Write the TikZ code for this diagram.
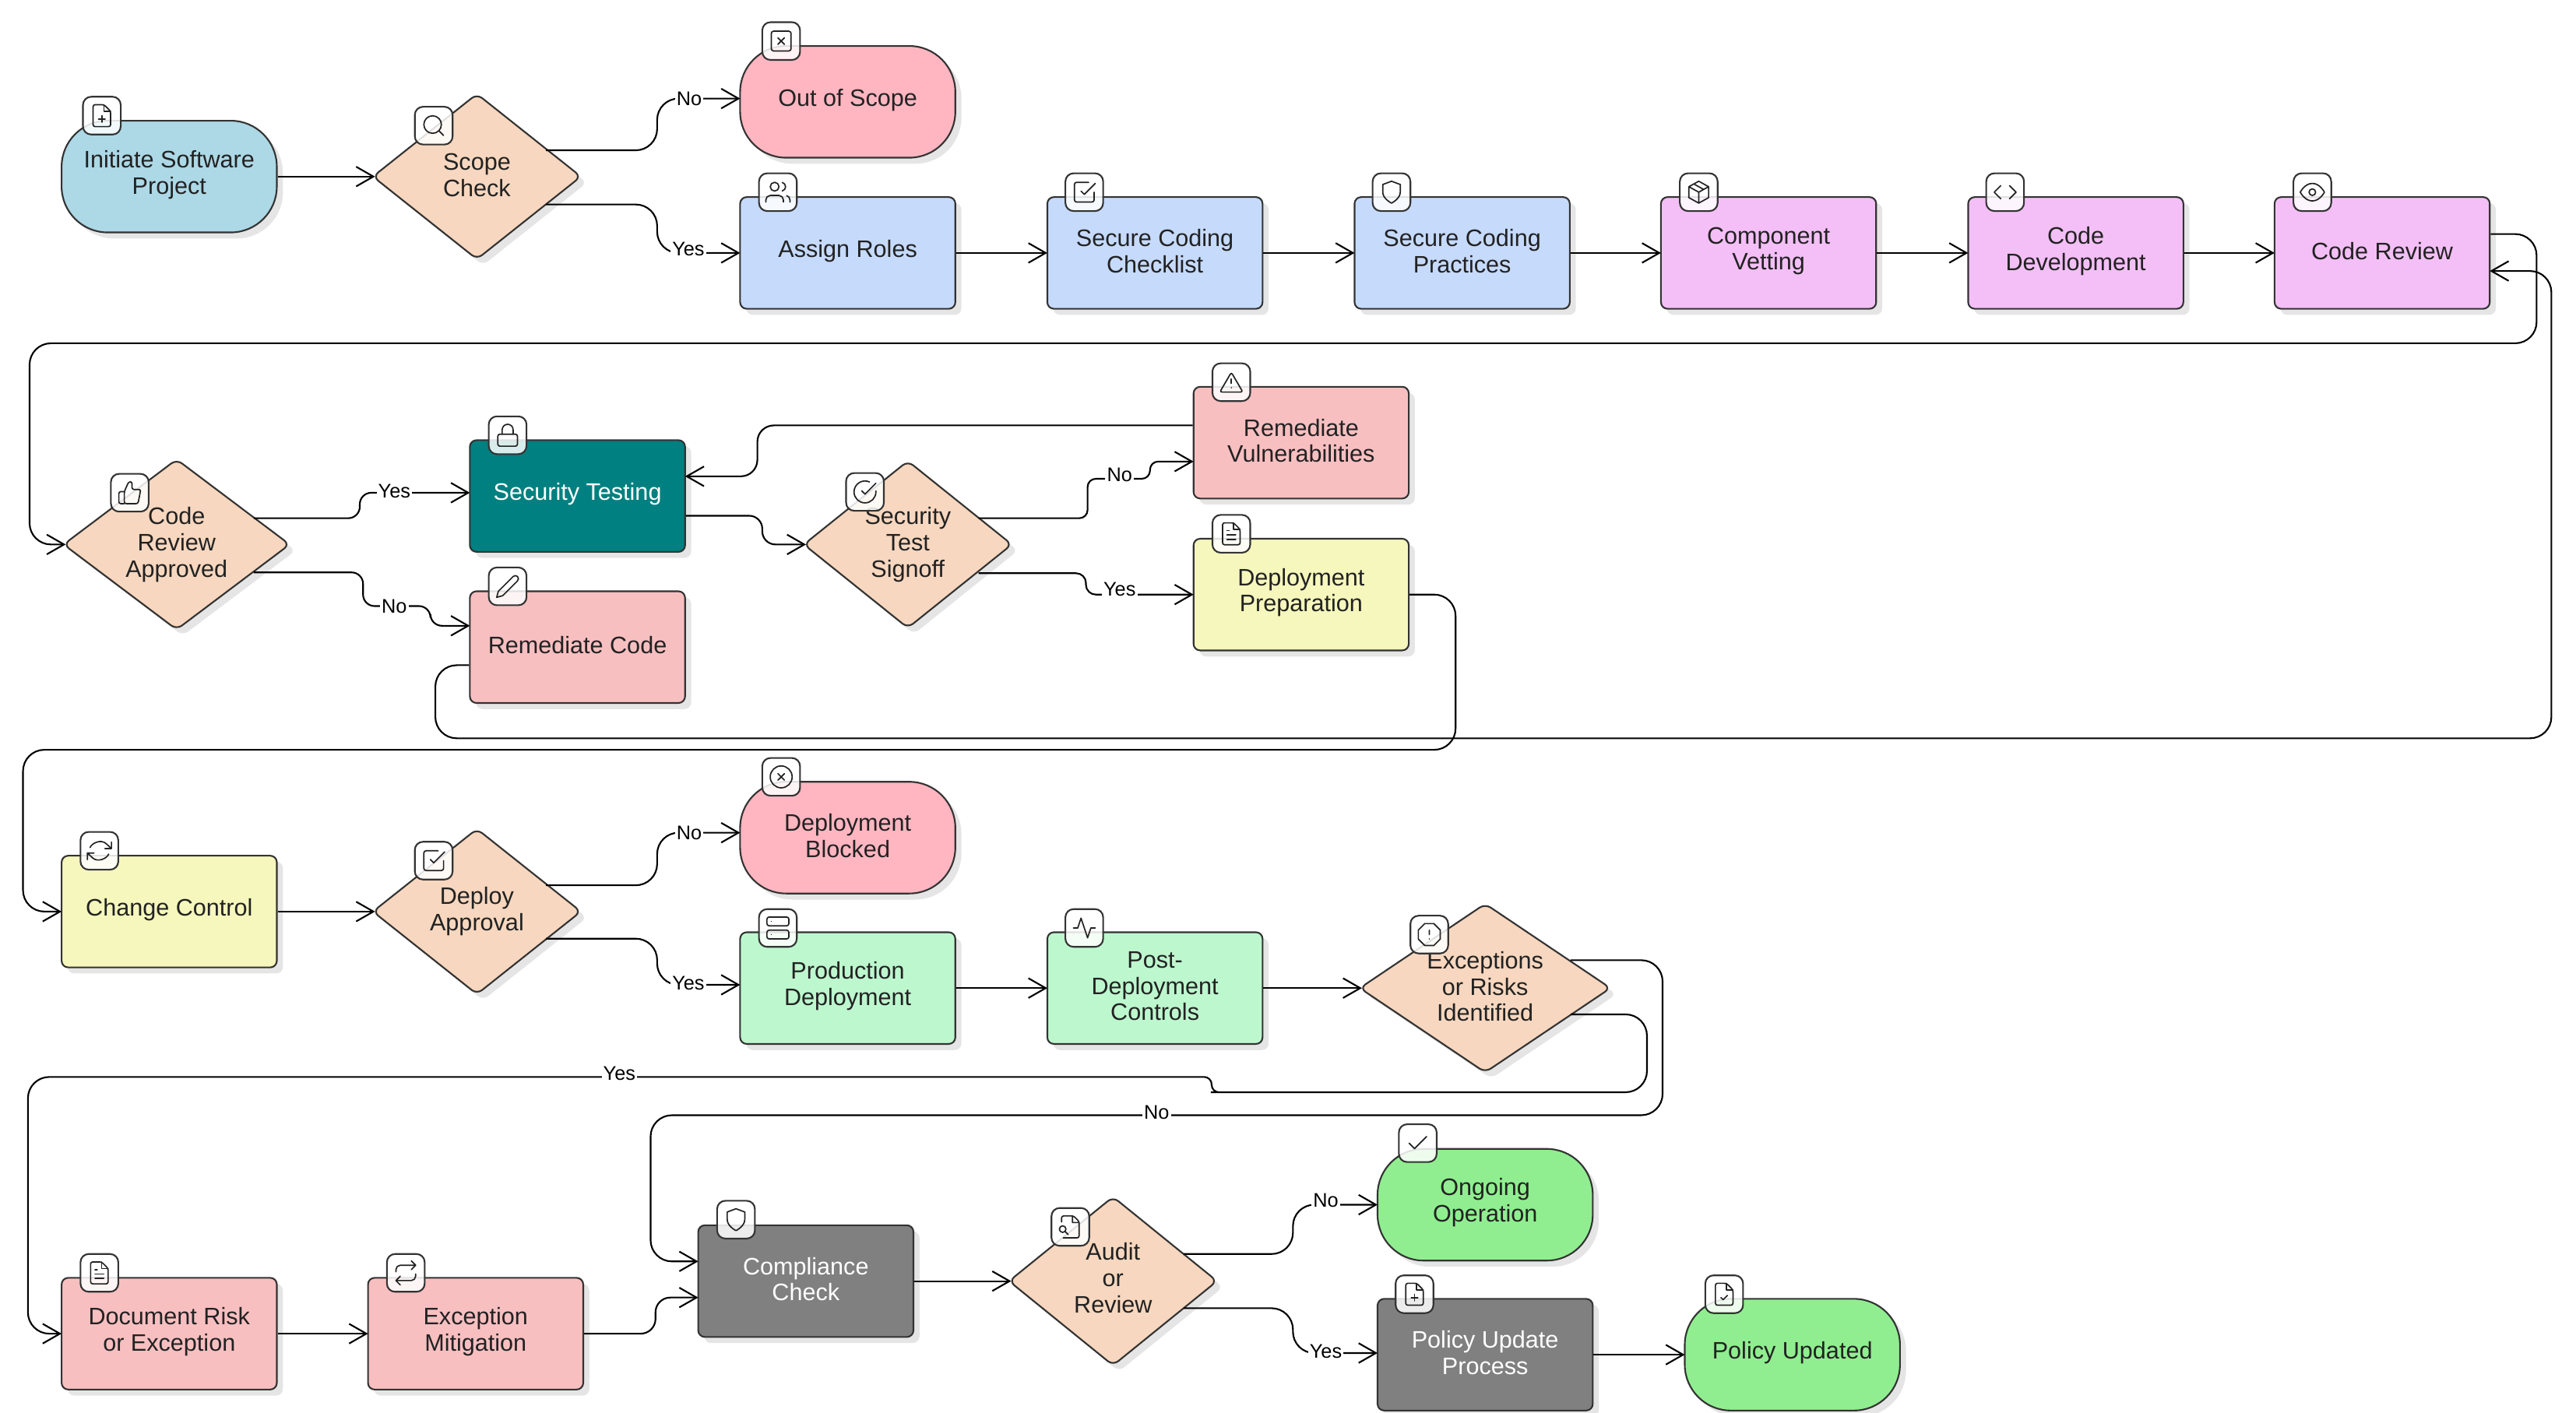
\documentclass[tikz,border=0pt]{standalone}
\usepackage{fontspec}
\setmainfont{Liberation Sans}
\usetikzlibrary{arrows.meta,shapes.geometric,shadows}
\definecolor{cline}{HTML}{333333}
\definecolor{ctxt}{HTML}{222222}
\definecolor{cblue}{HTML}{ADD8E6}
\definecolor{cpink}{HTML}{FFB6C1}
\definecolor{cperi}{HTML}{C6DAFC}
\definecolor{cpurp}{HTML}{F3BFF6}
\definecolor{csalm}{HTML}{F8BFC1}
\definecolor{cyell}{HTML}{F5F7BC}
\definecolor{cmint}{HTML}{BDF7CE}
\definecolor{cteal}{HTML}{008080}
\definecolor{cgray}{HTML}{808080}
\definecolor{clime}{HTML}{90EE90}
\definecolor{cdia}{HTML}{F7D7BF}
\tikzset{
  shad/.style={drop shadow={shadow xshift=3.7pt,shadow yshift=-3.7pt,fill=black!10,opacity=1}},
  basebox/.style={draw=cline,line width=1pt,shad,inner sep=0pt},
  rbox/.style={basebox,rectangle,rounded corners=4pt,minimum width=131pt,minimum height=68pt,fill=#1},
  sbox/.style={basebox,rectangle,rounded corners=28pt,minimum width=131pt,minimum height=68pt,fill=#1},
  dia/.style={basebox,diamond,rounded corners=4pt,fill=cdia,aspect=1.25},
  txt/.style={align=center,text=ctxt,inner sep=0pt,font=\fontsize{14.5}{16}\selectfont},
  txtw/.style={txt,text=white},
  edge/.style={draw=black,line width=1pt,rounded corners=13pt,shorten >=-.5pt,-{Straight Barb[length=10.5pt,width=12pt,line width=1pt]}},
  todia/.style={shorten >=-2pt},
  elab/.style={fill=white,inner sep=1pt,text=black,font=\fontsize{12}{12}\selectfont},
  badge/.style={rectangle,draw=cline,line width=1pt,rounded corners=5pt,fill=white,fill opacity=.85,minimum size=23pt,inner sep=0pt},
  ic/.style={draw=ctxt,line width=.8pt,line cap=round,line join=round},
  icbase/.style={shift={(-8pt,8pt)},x=.6667pt,y=-.6667pt},
  doc/.pic={\path[ic,rounded corners=1.2pt] (14,2)--(4,2)--(4,22)--(20,22)--(20,8)--cycle; \path[ic] (14,2)--(14,8)--(20,8);},
  fileplus/.pic={\begin{scope}[icbase]\pic{doc};\path[ic] (12,18)--(12,12) (9,15)--(15,15);\end{scope}},
  filetext/.pic={\begin{scope}[icbase]\pic{doc};\path[ic] (16,13)--(8,13) (16,17)--(8,17) (10,9)--(8,9);\end{scope}},
  filesearch/.pic={\begin{scope}[icbase]\path[ic,rounded corners=1.2pt] (4,7.5)--(4,2)--(15,2)--(20,7)--(20,22)--(5.5,22);\path[ic] (14,2)--(14,8)--(20,8) (5,14) circle[radius=3] (7.3,16.3)--(10,19);\end{scope}},
  filecheck/.pic={\begin{scope}[icbase]\pic{doc};\path[ic] (9,15)--(11,17)--(15,13);\end{scope}},
  isearch/.pic={\begin{scope}[icbase]\path[ic] (11,11) circle[radius=8] (21,21)--(16.65,16.65);\end{scope}},
  xsquare/.pic={\begin{scope}[icbase]\path[ic,rounded corners=1.3pt] (3,3) rectangle (21,21);\path[ic] (9,9)--(15,15) (15,9)--(9,15);\end{scope}},
  users/.pic={\begin{scope}[icbase]\path[ic] (17,21)--(17,19) .. controls (17,16.8) and (15.2,15) .. (13,15) -- (5,15) .. controls (2.8,15) and (1,16.8) .. (1,19) -- (1,21) (9,7) circle[radius=4] (23,21)--(23,19) .. controls (23,17.2) and (21.8,15.6) .. (20,15.13) (16,3.13) .. controls (17.8,3.6) and (19,5.2) .. (19,7) .. controls (19,8.8) and (17.8,10.4) .. (16,10.88);\end{scope}},
  checksq/.pic={\begin{scope}[icbase]\path[ic,rounded corners=1.3pt] (21,12)--(21,21)--(3,21)--(3,3)--(16,3);\path[ic] (9,11)--(12,14)--(22,4);\end{scope}},
  shield/.pic={\begin{scope}[icbase]\path[ic] (12,22) .. controls (12,22) and (20,18) .. (20,12) -- (20,5) -- (12,2) -- (4,5) -- (4,12) .. controls (4,18) and (12,22) .. (12,22) -- cycle;\end{scope}},
  ibox/.pic={\begin{scope}[icbase]\path[ic] (12,2)--(21,7)--(21,17)--(12,22)--(3,17)--(3,7)--cycle (3,7)--(12,12)--(21,7) (12,22)--(12,12) (7.5,4.5)--(16.5,9.5);\end{scope}},
  icode/.pic={\begin{scope}[icbase]\path[ic] (16,18)--(22,12)--(16,6) (8,6)--(2,12)--(8,18);\end{scope}},
  eye/.pic={\begin{scope}[icbase]\path[ic] (1,12) .. controls (1,12) and (5,4) .. (12,4) .. controls (19,4) and (23,12) .. (23,12) .. controls (23,12) and (19,20) .. (12,20) .. controls (5,20) and (1,12) .. (1,12) -- cycle (12,12) circle[radius=3];\end{scope}},
  alert/.pic={\begin{scope}[icbase]\path[ic,rounded corners=1.3pt] (12,3)--(22.5,21)--(1.5,21)--cycle;\path[ic] (12,9)--(12,13) (12,17)--(12.01,17);\end{scope}},
  ilock/.pic={\begin{scope}[icbase]\path[ic,rounded corners=1.3pt] (3,11) rectangle (21,22);\path[ic] (7,11)--(7,7) .. controls (7,4.2) and (9.2,2) .. (12,2) .. controls (14.8,2) and (17,4.2) .. (17,7) -- (17,11);\end{scope}},
  thumb/.pic={\begin{scope}[icbase]\path[ic,rounded corners=1.2pt] (14,9)--(14,5) .. controls (14,3.3) and (12.7,2) .. (11,2) -- (7,11)--(7,22)--(19.5,22)--(22,9)--cycle;\path[ic,rounded corners=1.2pt] (7,22)--(2,22)--(2,11)--(7,11);\end{scope}},
  circheck/.pic={\begin{scope}[icbase]\path[ic] (22,11.08)--(22,12) arc[start angle=0,end angle=294,radius=10] (22,4)--(12,14.01)--(9,11.01);\end{scope}},
  pencil/.pic={\begin{scope}[icbase]\path[ic] (17,3) .. controls (18.1,1.9) and (19.9,1.9) .. (21,3) .. controls (22.1,4.1) and (22.1,5.9) .. (21,7) -- (7.5,20.5) -- (2,22) -- (3.5,16.5) -- cycle;\end{scope}},
  refresh/.pic={\begin{scope}[icbase]\path[ic] (23,4)--(23,10)--(17,10) (1,20)--(1,14)--(7,14) (3.51,9) .. controls (5,5) and (13.5,1) .. (18.36,5.64) -- (23,10) (1,14) -- (5.64,18.36) .. controls (10.5,23) and (19,19) .. (20.49,15);\end{scope}},
  xcircle/.pic={\begin{scope}[icbase]\path[ic] (12,12) circle[radius=10] (15,9)--(9,15) (9,9)--(15,15);\end{scope}},
  server/.pic={\begin{scope}[icbase]\path[ic,rounded corners=1.3pt] (2,2) rectangle (22,10) (2,14) rectangle (22,22);\path[ic] (6,6)--(6.01,6) (6,18)--(6.01,18);\end{scope}},
  activity/.pic={\begin{scope}[icbase]\path[ic] (22,12)--(18,12)--(15,21)--(9,3)--(6,12)--(2,12);\end{scope}},
  octagon/.pic={\begin{scope}[icbase]\path[ic] (7.86,2)--(16.14,2)--(22,7.86)--(22,16.14)--(16.14,22)--(7.86,22)--(2,16.14)--(2,7.86)--cycle (12,8)--(12,12) (12,16)--(12.01,16);\end{scope}},
  irepeat/.pic={\begin{scope}[icbase]\path[ic] (17,1)--(21,5)--(17,9) (3,11)--(3,9) .. controls (3,6.8) and (4.8,5) .. (7,5) -- (21,5) (7,23)--(3,19)--(7,15) (21,13)--(21,15) .. controls (21,17.2) and (19.2,19) .. (17,19) -- (3,19);\end{scope}},
  icheck/.pic={\begin{scope}[icbase]\path[ic] (20,6)--(9,17)--(4,12);\end{scope}},
}
% style, name, x, y, text
\newcommand\nd[5]{\node[#1] (#2) at (#3,#4) {};\node[txt] (#2-t) at ([yshift=1.2pt]#2.center) {#5};}
\newcommand\ndw[5]{\node[#1] (#2) at (#3,#4) {};\node[txtw] (#2-t) at ([yshift=1.2pt]#2.center) {#5};}
\newcommand\dm[7]{\node[dia,minimum width=#3pt,minimum height=#4pt,aspect=1.25] (#1) at (#5,#6) {};\node[txt] (#1-t) at ([yshift=#2pt]#1.center) {#7};}
\newcommand\bdg[4]{\node[badge] (#1) at (#2,#3) {};\pic at (#1) {#4};}
\begin{document}
\begin{tikzpicture}[x=1pt,y=-1pt]
\useasboundingbox (0,0) rectangle (1568,860);
% ---- row 1
\nd{sbox=cblue}{start}{103}{107.5}{Initiate Software\\Project}
\dm{scope}{1}{127}{101}{290.3}{107.5}{Scope\\Check}
\nd{sbox=cpink}{out}{516}{62}{Out of Scope}
\nd{rbox=cperi}{assign}{516}{154}{Assign Roles}
\nd{rbox=cperi}{chk}{703}{154}{Secure Coding\\Checklist}
\nd{rbox=cperi}{prac}{890}{154}{Secure Coding\\Practices}
\nd{rbox=cpurp}{vet}{1076.5}{154}{Component\\Vetting}
\nd{rbox=cpurp}{dev}{1263.5}{154}{Code\\Development}
\nd{rbox=cpurp}{cr}{1450}{154}{Code Review}
% ---- row 2
\dm{cra}{0}{138}{104}{107.5}{331.5}{Code\\Review\\Approved}
\ndw{rbox=cteal}{st}{351.5}{302}{Security Testing}
\nd{rbox=csalm}{rc}{351.5}{394}{Remediate Code}
\dm{sts}{0}{127}{102}{552.6}{331.5}{Security\\Test\\Signoff}
\nd{rbox=csalm}{rv}{792}{269.5}{Remediate\\Vulnerabilities}
\nd{rbox=cyell}{dp}{792}{362}{Deployment\\Preparation}
% ---- row 3
\nd{rbox=cyell}{cc}{103}{555}{Change Control}
\dm{da}{0}{127}{101}{290.3}{555}{Deploy\\Approval}
\nd{sbox=cpink}{db}{516}{510}{Deployment\\Blocked}
\nd{rbox=cmint}{prod}{516}{601.6}{Production\\Deployment}
\nd{rbox=cmint}{post}{703}{601.6}{Post-\\Deployment\\Controls}
\dm{ex}{1}{153}{103}{904}{601.6}{Exceptions\\or Risks\\Identified}
% ---- row 4
\nd{rbox=csalm}{dr}{103}{812}{Document Risk\\or Exception}
\nd{rbox=csalm}{em}{289.5}{812}{Exception\\Mitigation}
\ndw{rbox=cgray}{cp}{490.5}{780}{Compliance\\Check}
\dm{au}{2}{127}{103}{677.5}{780}{Audit\\or\\Review}
\nd{sbox=clime}{oo}{904}{733.5}{Ongoing\\Operation}
\ndw{rbox=cgray}{pu}{904}{824.8}{Policy Update\\Process}
\nd{sbox=clime}{pd}{1091}{824.8}{Policy Updated}
% ---- connectors
\draw[edge,todia] (start.east) -- (scope.west);
\draw[edge] ([shift={(42,-16)}]scope.center) -| (400,60) -- ([yshift=2pt]out.west);
\draw[edge] ([shift={(42,17)}]scope.center) -| (400,154) -- (assign.west);
\draw[edge] (assign.east) -- (chk.west);
\draw[edge] (chk.east) -- (prac.west);
\draw[edge] (prac.east) -- (vet.west);
\draw[edge] (vet.east) -- (dev.west);
\draw[edge] (dev.east) -- (cr.west);
\draw[edge,todia] ([yshift=11.5pt]cr.east) -| (1544,209) -- (18,209) |- (cra.west);
\draw[edge,rounded corners=7pt] ([shift={(47,-16)}]cra.center) -| (219,300) -- ([yshift=2pt]st.west);
\draw[edge,rounded corners=7pt] ([shift={(47,17)}]cra.center) -| (221,369) -- (262,369) -- (262,381) -- ([yshift=13pt]rc.west);
\draw[edge] ([yshift=-11pt]rc.west) -| (265,449.5) -- (1553,449.5) |- ([yshift=-11pt]cr.east);
\draw[edge,todia,rounded corners=8pt] ([yshift=-12pt]st.east) -| (464,331.5) -- (sts.west);
\draw[edge,rounded corners=10pt] ([yshift=10.5pt]rv.west) -| (461,290) -- ([yshift=12pt]st.east);
\draw[edge,rounded corners=5pt] ([shift={(43,-16)}]sts.center) -| (662,291.5) -- (700,291.5) -- (700,281) -- ([yshift=-11.5pt]rv.west);
\draw[edge,rounded corners=6pt] ([shift={(43,17.5)}]sts.center) -| (661,362) -- (dp.west);
\draw[edge] (dp.east) -| (886,456.5) -- (14,456.5) |- (cc.west);
\draw[edge,todia] (cc.east) -- (da.west);
\draw[edge] ([shift={(42,-16)}]da.center) -| (400,507) -- ([yshift=3pt]db.west);
\draw[edge] ([shift={(42,16.5)}]da.center) -| (400,599.6) -- ([yshift=2pt]prod.west);
\draw[edge] (prod.east) -- (post.west);
\draw[edge,todia] (post.east) -- (ex.west);
\draw[edge] ([shift={(52,16)}]ex.center) -| (1002.5,665) -- (750,665) [rounded corners=4.5pt] -- (737.5,665) -- (737.5,655.7) -- (725,655.7) [rounded corners=13pt] -- (17,655.7) |- (dr.west);
\draw[edge] ([shift={(52,-17)}]ex.center) -| (1012,679) -- (396,679) |- ([yshift=12pt]cp.west);
\draw[edge] (dr.east) -- (em.west);
\draw[edge,rounded corners=9pt] (em.east) -| (399,790) -- ([yshift=-10pt]cp.west);
\draw[edge,todia] (cp.east) -- (au.west);
\draw[edge] ([shift={(43,-16.5)}]au.center) -| (787,733.5) -- (oo.west);
\draw[edge] ([shift={(43,16.5)}]au.center) -| (787,823.8) -- ([yshift=1pt]pu.west);
\draw[edge] (pu.east) -- (pd.west);
% ---- connector labels
\node[elab] (l1) at (419.5,60) {No};
\node[elab] (l2) at (419,151.5) {Yes};
\node[elab] (l3) at (240,299) {Yes};
\node[elab] (l4) at (240,369) {No};
\node[elab] (l5) at (681.5,289) {No};
\node[elab] (l6) at (681.5,359) {Yes};
\node[elab] (l7) at (419.5,507) {No};
\node[elab] (l8) at (419,598.5) {Yes};
\node[elab] (l9) at (377,653.5) {Yes};
\node[elab] (l10) at (704,677.5) {No};
\node[elab] (l11) at (807,731) {No};
\node[elab] (l12) at (807,823) {Yes};
% ---- icon badges
\bdg{b1}{62}{70.4}{fileplus}
\bdg{b2}{264}{76.5}{isearch}
\bdg{b3}{475.5}{25}{xsquare}
\bdg{b4}{473.5}{117}{users}
\bdg{b5}{660}{117}{checksq}
\bdg{b6}{847}{117}{shield}
\bdg{b7}{1034}{117}{ibox}
\bdg{b8}{1220.5}{117}{icode}
\bdg{b9}{1407.5}{117}{eye}
\bdg{b10}{749.5}{232.7}{alert}
\bdg{b11}{749.5}{325}{filetext}
\bdg{b12}{309}{265}{ilock}
\bdg{b13}{79}{300}{thumb}
\bdg{b14}{526.5}{299.5}{circheck}
\bdg{b15}{309}{357}{pencil}
\bdg{b16}{60.5}{518}{refresh}
\bdg{b17}{475.5}{473}{xcircle}
\bdg{b18}{264}{524}{checksq}
\bdg{b19}{473.5}{565}{server}
\bdg{b20}{660}{565}{activity}
\bdg{b21}{870}{569}{octagon}
\bdg{b22}{60.5}{775}{filetext}
\bdg{b23}{247}{775}{irepeat}
\bdg{b24}{448}{742.6}{shield}
\bdg{b25}{651.5}{747}{filesearch}
\bdg{b26}{863}{696}{icheck}
\bdg{b27}{861}{788}{fileplus}
\bdg{b28}{1049.5}{788}{filecheck}
\end{tikzpicture}
\end{document}
